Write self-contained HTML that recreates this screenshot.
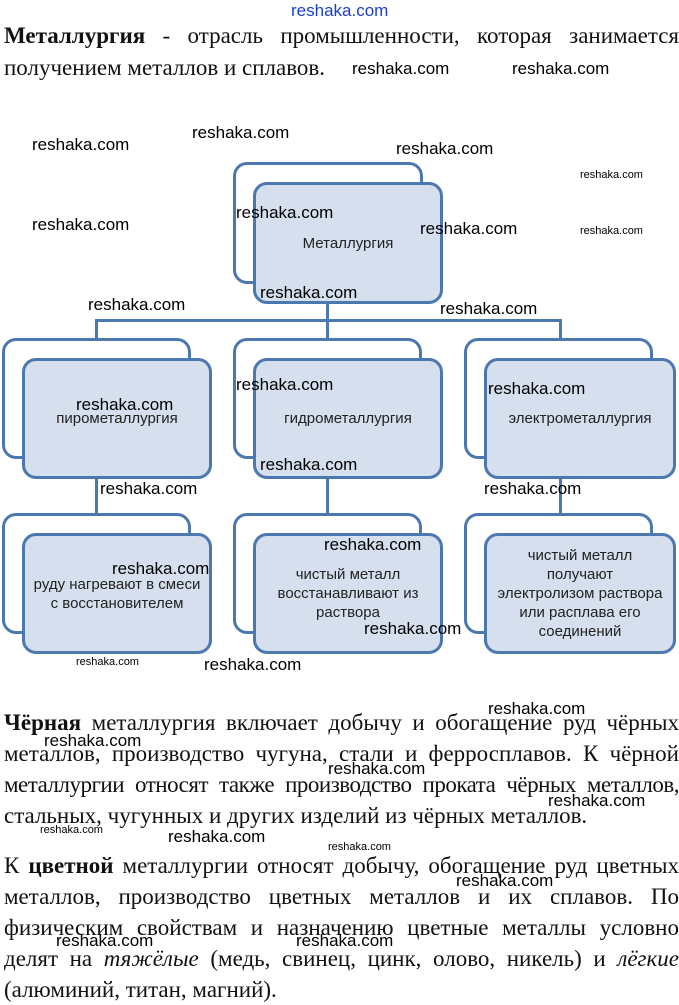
<!DOCTYPE html>
<html><head><meta charset="utf-8"><style>
body{margin:0;width:679px;height:1001px;background:#fff;position:relative;overflow:hidden;font-family:"Liberation Serif",serif;color:#111}
.bk{position:absolute;border:3px solid #4c78b0;border-radius:14px;background:#fff;box-sizing:border-box}
.fr{position:absolute;border:3px solid #4c78b0;border-radius:14px;background:#d5dfed;box-sizing:border-box;display:flex;align-items:center;justify-content:center;text-align:center;font-family:"Liberation Sans",sans-serif;font-size:15px;line-height:19px;color:#222}
.ln{position:absolute;background:#4c78b0}
.w{position:absolute;font-family:"Liberation Sans",sans-serif;font-size:17px;line-height:18px;color:#000;white-space:nowrap}
.s{font-size:11px;line-height:12px}
.t{position:absolute;left:4px;width:675px;font-size:23px;line-height:31px;white-space:nowrap;text-align:justify;text-align-last:justify}
.nj{text-align-last:left}
</style></head><body>
<div class="t" style="top:20px;line-height:32px"><b>Металлургия</b> - отрасль промышленности, которая занимается</div>
<div class="t nj" style="top:52px;line-height:32px">получением металлов и сплавов.</div>

<div class="ln" style="left:326px;top:300px;width:3px;height:22px"></div>
<div class="ln" style="left:95px;top:319px;width:467px;height:3px"></div>
<div class="ln" style="left:95px;top:319px;width:3px;height:22px"></div>
<div class="ln" style="left:326px;top:319px;width:3px;height:22px"></div>
<div class="ln" style="left:559px;top:319px;width:3px;height:22px"></div>
<div class="ln" style="left:95px;top:476px;width:3px;height:40px"></div>
<div class="ln" style="left:326px;top:476px;width:3px;height:40px"></div>
<div class="ln" style="left:559px;top:476px;width:3px;height:40px"></div>

<div class="bk" style="left:233px;top:162px;width:190px;height:122px"></div>
<div class="fr" style="left:253px;top:182px;width:190px;height:122px">Металлургия</div>

<div class="bk" style="left:2px;top:338px;width:189px;height:121px"></div>
<div class="fr" style="left:22px;top:358px;width:190px;height:121px">пирометаллургия</div>
<div class="bk" style="left:233px;top:338px;width:189px;height:121px"></div>
<div class="fr" style="left:253px;top:358px;width:190px;height:121px">гидрометаллургия</div>
<div class="bk" style="left:464px;top:338px;width:189px;height:121px"></div>
<div class="fr" style="left:484px;top:358px;width:192px;height:121px">электрометаллургия</div>

<div class="bk" style="left:2px;top:513px;width:189px;height:121px"></div>
<div class="fr" style="left:22px;top:533px;width:190px;height:121px">руду нагревают в смеси<br>с восстановителем</div>
<div class="bk" style="left:233px;top:513px;width:189px;height:121px"></div>
<div class="fr" style="left:253px;top:533px;width:190px;height:121px">чистый металл<br>восстанавливают из<br>раствора</div>
<div class="bk" style="left:464px;top:513px;width:189px;height:121px"></div>
<div class="fr" style="left:484px;top:533px;width:192px;height:121px">чистый металл<br>получают<br>электролизом раствора<br>или расплава его<br>соединений</div>

<div class="t" style="top:707px"><b>Чёрная</b> металлургия включает добычу и обогащение руд чёрных</div>
<div class="t" style="top:738px">металлов, производство чугуна, стали и ферросплавов. К чёрной</div>
<div class="t" style="top:769px;letter-spacing:-0.5px;word-spacing:-2px">металлургии относят также производство проката чёрных металлов,</div>
<div class="t nj" style="top:800px">стальных, чугунных и других изделий из чёрных металлов.</div>
<div class="t" style="top:850px">К <b>цветной</b> металлургии относят добычу, обогащение руд цветных</div>
<div class="t" style="top:881px">металлов, производство цветных металлов и их сплавов. По</div>
<div class="t" style="top:912px">физическим свойствам и назначению цветные металлы условно</div>
<div class="t" style="top:943px">делят на <i>тяжёлые</i> (медь, свинец, цинк, олово, никель) и <i>лёгкие</i></div>
<div class="t nj" style="top:974px">(алюминий, титан, магний).</div>

<div class="w" style="left:291px;top:2px;color:#1a3fd0">reshaka.com</div>
<div class="w" style="left:352px;top:60px">reshaka.com</div>
<div class="w" style="left:512px;top:60px">reshaka.com</div>
<div class="w" style="left:192px;top:124px">reshaka.com</div>
<div class="w" style="left:32px;top:136px">reshaka.com</div>
<div class="w" style="left:396px;top:140px">reshaka.com</div>
<div class="w s" style="left:580px;top:169px">reshaka.com</div>
<div class="w" style="left:236px;top:204px">reshaka.com</div>
<div class="w" style="left:32px;top:216px">reshaka.com</div>
<div class="w" style="left:420px;top:220px">reshaka.com</div>
<div class="w s" style="left:580px;top:225px">reshaka.com</div>
<div class="w" style="left:260px;top:284px">reshaka.com</div>
<div class="w" style="left:88px;top:296px">reshaka.com</div>
<div class="w" style="left:440px;top:300px">reshaka.com</div>
<div class="w" style="left:236px;top:376px">reshaka.com</div>
<div class="w" style="left:488px;top:380px">reshaka.com</div>
<div class="w" style="left:76px;top:396px">reshaka.com</div>
<div class="w" style="left:260px;top:456px">reshaka.com</div>
<div class="w" style="left:100px;top:480px">reshaka.com</div>
<div class="w" style="left:484px;top:480px">reshaka.com</div>
<div class="w" style="left:324px;top:536px">reshaka.com</div>
<div class="w" style="left:112px;top:560px">reshaka.com</div>
<div class="w" style="left:364px;top:620px">reshaka.com</div>
<div class="w s" style="left:76px;top:656px">reshaka.com</div>
<div class="w" style="left:204px;top:656px">reshaka.com</div>
<div class="w" style="left:488px;top:700px">reshaka.com</div>
<div class="w" style="left:44px;top:732px">reshaka.com</div>
<div class="w" style="left:328px;top:760px">reshaka.com</div>
<div class="w" style="left:548px;top:792px">reshaka.com</div>
<div class="w s" style="left:40px;top:824px">reshaka.com</div>
<div class="w" style="left:168px;top:828px">reshaka.com</div>
<div class="w s" style="left:328px;top:841px">reshaka.com</div>
<div class="w" style="left:456px;top:872px">reshaka.com</div>
<div class="w" style="left:56px;top:932px">reshaka.com</div>
<div class="w" style="left:296px;top:932px">reshaka.com</div>
</body></html>
